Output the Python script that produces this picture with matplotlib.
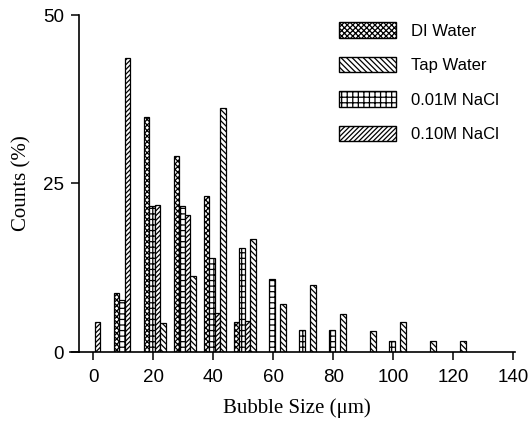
import matplotlib
matplotlib.use("Agg")
import matplotlib.pyplot as plt
from matplotlib.patches import Patch
import numpy as np

# Bubble size bins (µm)
bins = [0, 10, 20, 30, 40, 50, 60, 70, 80, 90, 100, 110, 120]
di_water = [0, 8.7, 34.8, 29.1, 23.2, 4.5, 0, 0, 0, 0, 0, 0, 0]
nacl_001 = [0, 7.7, 21.6, 21.6, 13.9, 15.5, 10.8, 3.3, 3.3, 0, 1.7, 0, 0]
nacl_010 = [4.5, 43.6, 21.8, 20.3, 5.8, 4.6, 0, 0, 0, 0, 0, 0, 0]
tap_water = [0, 0, 4.3, 11.3, 36.2, 16.8, 7.1, 9.9, 5.7, 3.1, 4.4, 1.6, 1.6]

x_ticks = [0, 20, 40, 60, 80, 100, 120, 140]
y_ticks = [0, 25, 50]

plt.rcParams['hatch.linewidth'] = 0.9

fig = plt.figure(figsize=(5.32, 4.23), dpi=100)
ax = fig.add_axes([79/532, 1-352/423, (515-79)/532, (352-15)/423])

x = np.array(bins, dtype=float)
w = 1.85
offsets = [-2.3, -0.45, 1.4, 3.25]
H_DI = 'xxxxxx'
H_TAP = '\\\\\\\\\\\\'
H_001 = '+++'
H_010 = '///////'
series = [
    (di_water, H_DI),
    (nacl_001, H_001),
    (nacl_010, H_010),
    (tap_water, H_TAP),
]
for (vals, hatch), off in zip(series, offsets):
    v = np.array(vals)
    m = v > 0
    ax.bar(x[m] + off, v[m], width=w, facecolor='white', edgecolor='black',
           hatch=hatch, linewidth=0.9)

ax.set_xlim(-4.8, 140.6)
ax.set_ylim(0, 50)
ax.set_xticks(x_ticks)
ax.set_yticks(y_ticks)
for s in ['top', 'right']:
    ax.spines[s].set_visible(False)
for s in ['left', 'bottom']:
    ax.spines[s].set_linewidth(1.2)
ax.plot([-7.8, -4.8], [0, 0], color='black', lw=1.2, clip_on=False)
ax.tick_params(direction='out', length=6, width=1.1, labelsize=13.5)
ax.tick_params(axis='x', pad=6)
ax.tick_params(axis='y', pad=5)
for lab in ax.get_xticklabels() + ax.get_yticklabels():
    lab.set_family('Liberation Sans')

ax.set_xlabel('Bubble Size (\u03bcm)', family='Liberation Serif', fontsize=15, labelpad=9)
ax.set_ylabel('Counts (%)', family='Liberation Serif', fontsize=15, labelpad=8)

handles = [
    Patch(facecolor='white', edgecolor='black', hatch=H_DI, label='DI Water'),
    Patch(facecolor='white', edgecolor='black', hatch=H_TAP, label='Tap Water'),
    Patch(facecolor='white', edgecolor='black', hatch=H_001, label='0.01M NaCl'),
    Patch(facecolor='white', edgecolor='black', hatch=H_010, label='0.10M NaCl'),
]
fs = 12
leg = ax.legend(handles=handles, loc='upper left',
                bbox_to_anchor=(339/532, 1-22/423), bbox_transform=fig.transFigure,
                frameon=False, borderpad=0, borderaxespad=0,
                prop={'family': 'Liberation Sans', 'size': fs},
                handlelength=3.4, handleheight=1.08, labelspacing=1.08,
                handletextpad=0.9)

fig.savefig('out.png', dpi=100)
